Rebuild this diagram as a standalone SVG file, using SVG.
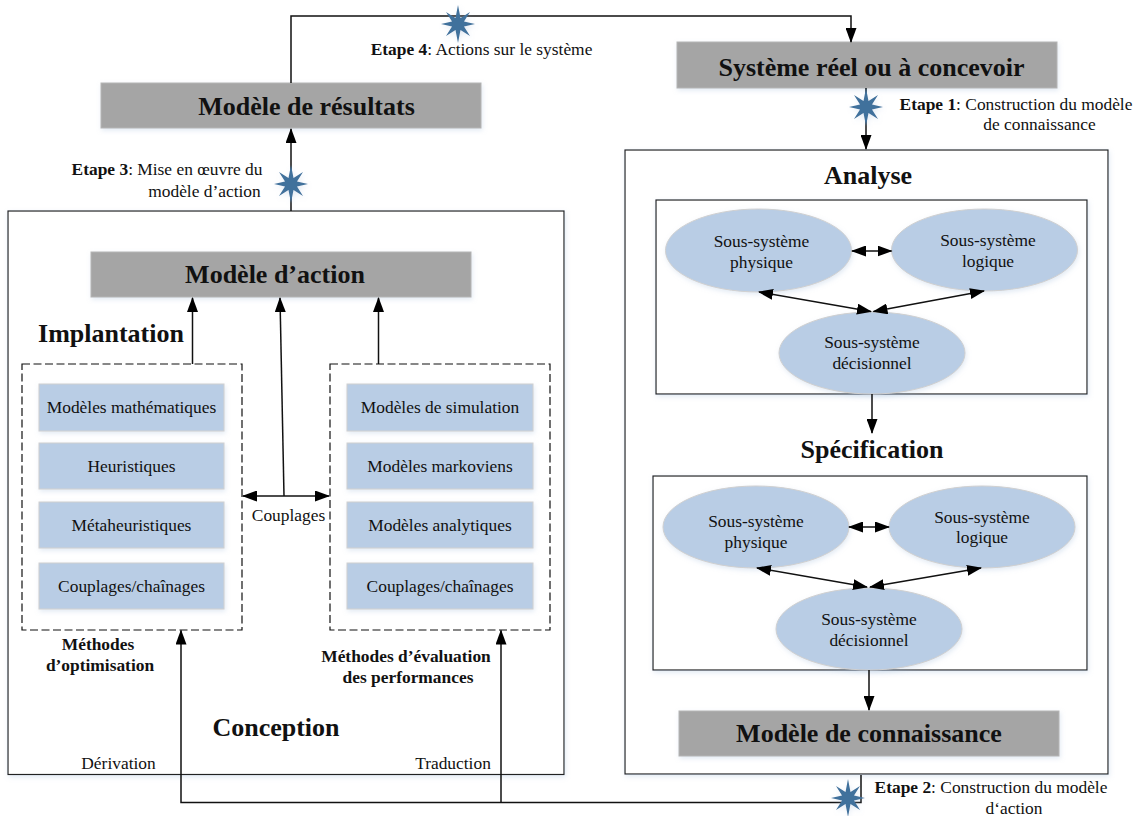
<svg xmlns="http://www.w3.org/2000/svg" width="1137" height="816" viewBox="0 0 1137 816">
<style>
text{font-family:"Liberation Serif","Times New Roman",serif;fill:#111;text-anchor:middle}
.t{font-size:17.4px}
.l{font-size:17.4px}
.b{font-weight:bold}
.h{font-size:26px;font-weight:bold}
.gray{fill:#a5a5a5;stroke:#b5b5b5;stroke-width:1;filter:url(#sh)}
.blue{fill:#b9cde5;stroke:#d0d0d0;stroke-width:1;filter:url(#sh)}
.frame{fill:#fff;stroke:#222;stroke-width:1.2;filter:url(#sh)}
.dash{fill:#fff;stroke:#111;stroke-width:1.2;stroke-dasharray:8 3.5}
.c{fill:none;stroke:#111;stroke-width:1.5}
.a{marker-end:url(#arr)}
.aa{marker-start:url(#arrs);marker-end:url(#arr)}
</style>
<defs>
<filter id="sh" x="-10%" y="-10%" width="120%" height="125%"><feDropShadow dx="1" dy="2" stdDeviation="2.500" flood-color="#9db8d8" flood-opacity="0.3"/></filter>
<marker id="arr" markerWidth="15" markerHeight="11" refX="14" refY="5.5" orient="auto" markerUnits="userSpaceOnUse"><path d="M0 0L15 5.5L0 11Z" fill="#000"/></marker>
<marker id="arrs" markerWidth="15" markerHeight="11" refX="1" refY="5.5" orient="auto" markerUnits="userSpaceOnUse"><path d="M15 0L0 5.5L15 11Z" fill="#000"/></marker>
<polygon id="star" points="0,-19 2.500,-6 12,-12 6,-2.500 17,0 6,2.500 12,12 2.500,6 0,19 -2.500,6 -12,12 -6,2.500 -17,0 -6,-2.500 -12,-12 -2.500,-6" fill="#41719c" filter="url(#sh)"/>
</defs>
<rect width="1137" height="816" fill="#fff"/>

<g id="frame-right"><rect class="frame" x="625" y="150" width="483" height="624"/></g>
<g id="frame-left"><rect class="frame" x="8" y="211" width="556" height="563.500"/></g>
<g id="frame-analyse"><rect class="frame" x="656" y="200" width="431" height="194"/></g>
<g id="frame-specification"><rect class="frame" x="653" y="476" width="434" height="194"/></g>

<g id="result"><rect class="gray" x="101" y="83" width="380" height="45"/><text class="h" x="306.500" y="115">Modèle de résultats</text></g>
<g id="system"><rect class="gray" x="677" y="42" width="380" height="46"/><text class="h" x="871.500" y="76">Système réel ou à concevoir</text></g>
<g id="action"><rect class="gray" x="91" y="252" width="380" height="45"/><text class="h" x="275" y="283">Modèle d’action</text></g>
<g id="knowledge"><rect class="gray" x="679" y="711" width="380" height="45"/><text class="h" x="869" y="742">Modèle de connaissance</text></g>

<g id="dash-opt"><rect class="dash" x="22" y="364" width="220" height="266"/></g>
<g id="dash-perf"><rect class="dash" x="330" y="364" width="220" height="266"/></g>

<g id="m1"><rect class="blue" x="39" y="384" width="185" height="47"/><text class="t" x="131.500" y="413">Modèles mathématiques</text></g>
<g id="m2"><rect class="blue" x="39" y="443" width="185" height="46"/><text class="t" x="131.500" y="472">Heuristiques</text></g>
<g id="m3"><rect class="blue" x="39" y="502" width="185" height="46"/><text class="t" x="131.500" y="531">Métaheuristiques</text></g>
<g id="m4"><rect class="blue" x="39" y="563" width="185" height="46"/><text class="t" x="131.500" y="592">Couplages/chaînages</text></g>
<g id="p1"><rect class="blue" x="347" y="384" width="186" height="47"/><text class="t" x="440" y="413">Modèles de simulation</text></g>
<g id="p2"><rect class="blue" x="347" y="443" width="186" height="46"/><text class="t" x="440" y="472">Modèles markoviens</text></g>
<g id="p3"><rect class="blue" x="347" y="502" width="186" height="46"/><text class="t" x="440" y="531">Modèles analytiques</text></g>
<g id="p4"><rect class="blue" x="347" y="563" width="186" height="46"/><text class="t" x="440" y="592">Couplages/chaînages</text></g>

<g id="a-phys"><ellipse class="blue" cx="758.500" cy="250.500" rx="93" ry="41.500"/><text class="t" x="761.500" y="247">Sous-système</text><text class="t" x="761.500" y="268">physique</text></g>
<g id="a-log"><ellipse class="blue" cx="984.500" cy="250" rx="93" ry="41"/><text class="t" x="988" y="246">Sous-système</text><text class="t" x="988" y="267">logique</text></g>
<g id="a-dec"><ellipse class="blue" cx="872" cy="353" rx="93" ry="41"/><text class="t" x="872" y="348">Sous-système</text><text class="t" x="872" y="369">décisionnel</text></g>
<g id="s-phys"><ellipse class="blue" cx="756" cy="527" rx="93" ry="41"/><text class="t" x="756" y="527">Sous-système</text><text class="t" x="756" y="548">physique</text></g>
<g id="s-log"><ellipse class="blue" cx="982" cy="527" rx="93" ry="41"/><text class="t" x="982" y="522.500">Sous-système</text><text class="t" x="982" y="543">logique</text></g>
<g id="s-dec"><ellipse class="blue" cx="869" cy="629" rx="93" ry="41"/><text class="t" x="869" y="625">Sous-système</text><text class="t" x="869" y="646">décisionnel</text></g>

<g id="connectors">
<path class="c a" d="M291 83V16H851V42"/>
<path class="c a" d="M866 88V149"/>
<path class="c a" d="M291 211V129"/>
<path class="c a" d="M192.500 364V298"/>
<path class="c a" d="M378.500 364V298"/>
<path class="c a" d="M284 496L280 298"/>
<path class="c aa" d="M243 496H329"/>
<path class="c a" d="M872 394V433"/>
<path class="c a" d="M869 670V710"/>
<path class="c a" d="M861 775V802.500H181V630.500"/>
<path class="c a" d="M501 802.500V630.500"/>
<path class="c aa" d="M852 251H891.500"/>
<path class="c aa" d="M759 292L871 311.500"/>
<path class="c aa" d="M984 291L873.500 311.500"/>
<path class="c aa" d="M849 527H889"/>
<path class="c aa" d="M757 568L867 587"/>
<path class="c aa" d="M981 568L870 587"/>
</g>

<use href="#star" x="458" y="24"/>
<use href="#star" x="866" y="107"/>
<use href="#star" x="291" y="184"/>
<use href="#star" x="848" y="798"/>

<text class="l" x="481.500" y="55"><tspan class="b">Etape 4</tspan>: Actions sur le système</text>
<text class="l" x="1016" y="110"><tspan class="b">Etape 1</tspan>: Construction du modèle</text>
<text class="l" x="1039.500" y="130">de connaissance</text>
<text class="l" x="167" y="175"><tspan class="b">Etape 3</tspan>: Mise en œuvre du</text>
<text class="l" x="204.500" y="197">modèle d’action</text>
<text class="l" x="991" y="793"><tspan class="b">Etape 2</tspan>: Construction du modèle</text>
<text class="l" x="1014" y="814">d‘action</text>

<text class="h" x="868" y="184">Analyse</text>
<text class="h" x="872" y="458">Spécification</text>
<text class="h" x="111" y="342">Implantation</text>
<text class="h" x="276" y="736">Conception</text>
<text class="l" x="288.500" y="521">Couplages</text>
<text class="l b" x="98" y="650">Méthodes</text>
<text class="l b" x="100" y="671">d’optimisation</text>
<text class="l b" x="406" y="662">Méthodes d’évaluation</text>
<text class="l b" x="408" y="683">des performances</text>
<text class="l" x="118.500" y="769">Dérivation</text>
<text class="l" x="453" y="769">Traduction</text>
</svg>
